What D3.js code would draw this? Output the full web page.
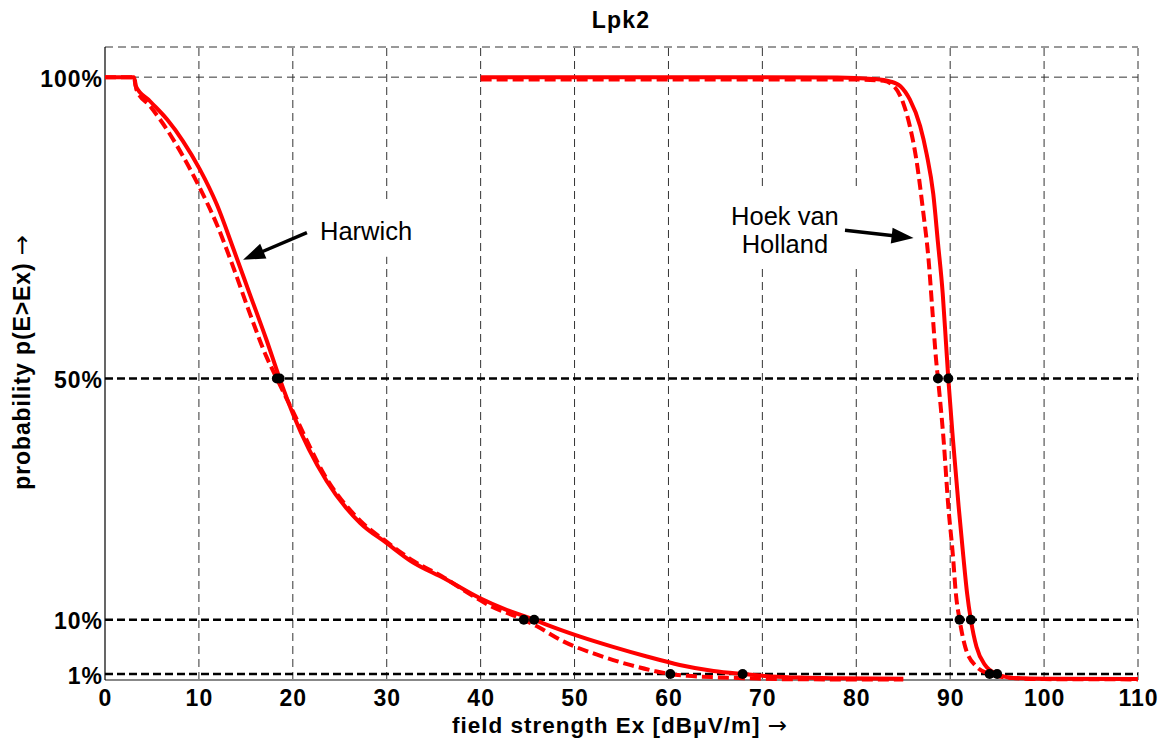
<!DOCTYPE html>
<html>
<head>
<meta charset="utf-8">
<script src="https://cdn.jsdelivr.net/npm/d3@7/dist/d3.min.js"></script>
<style>
  html, body { margin: 0; padding: 0; background: #fff; }
  svg { display: block; font-family: "Liberation Sans", Arial, Helvetica, sans-serif; }
</style>
</head>
<body>
<svg id="chart" width="1174" height="740"></svg>
<script>
// Exceedance probability p(E>Ex) versus field strength Ex, two sites, two variants each
const xTicks = [0, 10, 20, 30, 40, 50, 60, 70, 80, 90, 100, 110];
const yTicks = [1, 10, 50, 100];
const majorLevels = [1, 10, 50];
const minorLevels = [100, 105];

// [Ex dBµV/m, probability %]
const harwichSolid = [
  [0, 100], [3.1, 100], [3.25, 98.6], [4.8, 96.0], [6.6, 93.0], [8.3, 89.4],
  [10.1, 84.7], [11.9, 78.9], [13.7, 71.4], [15.4, 64.1], [17.2, 56.4], [18.6, 50],
  [20.05, 44.0], [23.6, 33.0], [27.2, 26.0], [30.0, 22.7], [32.6, 19.7], [36.2, 16.8],
  [39.9, 13.6], [42.5, 11.8], [45.7, 10.0], [47.0, 9.2], [50.6, 7.2], [54.1, 5.5],
  [57.7, 3.9], [61.2, 2.5], [64.8, 1.5], [67.9, 1.0], [71, 0.6], [74, 0.4],
  [78, 0.28], [85, 0.2]
];
const harwichDashed = [
  [0, 100], [3.1, 100], [3.35, 97.9], [4.8, 95.2], [6.6, 91.3], [8.3, 86.9],
  [10.1, 81.6], [11.9, 75.6], [13.7, 68.3], [15.4, 60.9], [17.2, 53.6], [18.3, 50],
  [20, 44.6], [23.6, 33.4], [27.2, 26.4], [30, 22.9], [32.8, 19.8], [36.2, 16.9],
  [38.2, 14.9], [41, 12.3], [44.6, 10.0], [46.0, 8.9], [48.8, 6.4], [52.4, 4.2],
  [55.9, 2.5], [58.5, 1.5], [60.2, 1.0], [62, 0.7], [65, 0.45], [68.3, 0.3],
  [73, 0.12], [85, 0.08]
];
const hoekSolid = [
  [40, 100], [78, 99.95], [81.8, 99.7], [83.6, 99.3], [84.7, 98.5], [85.7, 96.3],
  [86.8, 91.9], [87.5, 87.2], [88.2, 80.6], [88.7, 72.5], [89.2, 64.2], [89.55, 56],
  [89.8, 50], [90.3, 39.8], [90.9, 28.8], [91.4, 20.5], [91.8, 14.4], [92.2, 10.0],
  [92.8, 5.5], [93.7, 2.5], [95.0, 1.0], [96.7, 0.35], [100, 0.2], [110, 0.15]
];
const hoekDashed = [
  [40, 99.6], [80, 99.6], [82.9, 99.4], [84.0, 98.5], [85.0, 95.7], [85.7, 91.9],
  [86.4, 86.3], [87.1, 78.0], [87.7, 69.7], [88.1, 61.4], [88.5, 53.1], [88.7, 50],
  [89.3, 39.8], [89.8, 28.8], [90.3, 20.5], [90.6, 14.4], [91.0, 10.0], [91.6, 5.5],
  [92.8, 2.2], [94.2, 1.0], [96.0, 0.4], [100, 0.15], [110, 0.1]
];

// level crossings marked with dots: [Ex, probability %]
const crossings = [
  [18.6, 50], [45.7, 10], [67.9, 1],
  [18.3, 50], [44.6, 10], [60.2, 1],
  [89.8, 50], [92.2, 10], [95.0, 1],
  [88.7, 50], [91.0, 10], [94.2, 1]
];

// site annotations in data units
const labels = [
  { lines: ["Harwich"], x: 27.8, y: 73.05, box: [20.8, 79.7, 34.1, 70.2], from: [21.5, 74.2], to: [14.7, 69.7] },
  { lines: ["Hoek van", "Holland"], x: 72.4, y: 75.5, box: [65.7, 81.9, 84.9, 68.9], from: [78.8, 74.6], to: [86.1, 73.3] }
];

const margin = { left: 105, right: 1138, top: 47, bottom: 680 };
const svg = d3.select("#chart");
const x = d3.scaleLinear().domain([0, 110]).range([margin.left, margin.right]);
const y = d3.scaleLinear().domain([0, 105]).range([margin.bottom, margin.top]);

// grid
const grid = svg.append("g");
grid.selectAll("line.vx").data(xTicks.filter(d => d > 0)).join("line")
  .attr("x1", d => x(d)).attr("x2", d => x(d))
  .attr("y1", y(0)).attr("y2", y(105))
  .attr("stroke", "#333").attr("stroke-width", 1).attr("stroke-dasharray", "8,5");
grid.selectAll("line.hm").data(minorLevels).join("line")
  .attr("x1", x(0)).attr("x2", x(110))
  .attr("y1", d => y(d)).attr("y2", d => y(d))
  .attr("stroke", "#333").attr("stroke-width", 1).attr("stroke-dasharray", "8,5");
grid.selectAll("line.hM").data(majorLevels).join("line")
  .attr("x1", x(0)).attr("x2", x(110))
  .attr("y1", d => y(d)).attr("y2", d => y(d))
  .attr("stroke", "#000").attr("stroke-width", 2.5).attr("stroke-dasharray", "8,4");

// white boxes behind annotations
svg.append("g").selectAll("rect").data(labels).join("rect")
  .attr("x", d => x(d.box[0])).attr("y", d => y(d.box[1]))
  .attr("width", d => x(d.box[2]) - x(d.box[0]))
  .attr("height", d => y(d.box[3]) - y(d.box[1]))
  .attr("fill", "#fff");

// frame axes
svg.append("line").attr("x1", x(0)).attr("x2", x(110)).attr("y1", y(0)).attr("y2", y(0))
  .attr("stroke", "#888").attr("stroke-width", 2);
svg.append("line").attr("x1", x(0)).attr("x2", x(0)).attr("y1", y(0)).attr("y2", y(105))
  .attr("stroke", "#000").attr("stroke-width", 1.2);

// curves
const line = d3.line().x(d => x(d[0])).y(d => y(d[1])).curve(d3.curveMonotoneX);
const series = [
  { data: harwichDashed, dash: "11,5" },
  { data: hoekDashed, dash: "11,5" },
  { data: harwichSolid, dash: null },
  { data: hoekSolid, dash: null }
];
svg.append("g").selectAll("path").data(series).join("path")
  .attr("d", d => line(d.data))
  .attr("fill", "none").attr("stroke", "#ff0000").attr("stroke-width", 4)
  .attr("stroke-dasharray", d => d.dash);

// crossing dots
svg.append("g").selectAll("circle").data(crossings).join("circle")
  .attr("cx", d => x(d[0])).attr("cy", d => y(d[1])).attr("r", 5).attr("fill", "#000");

// annotations
const ann = svg.append("g");
labels.forEach(l => {
  const t = ann.append("text").attr("x", x(l.x)).attr("y", y(l.y))
    .attr("text-anchor", "middle").attr("font-size", 25.5).attr("fill", "#000");
  l.lines.forEach((s, i) => t.append("tspan").attr("x", x(l.x)).attr("dy", i === 0 ? 0 : 28).text(s));
  const x1 = x(l.from[0]), y1 = y(l.from[1]), x2 = x(l.to[0]), y2 = y(l.to[1]);
  const a = Math.atan2(y2 - y1, x2 - x1), hl = 22, hw = 8;
  const bx = x2 - hl * Math.cos(a), by = y2 - hl * Math.sin(a);
  ann.append("line").attr("x1", x1).attr("y1", y1).attr("x2", bx + 2 * Math.cos(a)).attr("y2", by + 2 * Math.sin(a))
    .attr("stroke", "#000").attr("stroke-width", 3.5);
  ann.append("path")
    .attr("d", `M${x2},${y2}L${bx - hw * Math.sin(a)},${by + hw * Math.cos(a)}L${bx + hw * Math.sin(a)},${by - hw * Math.cos(a)}Z`)
    .attr("fill", "#000");
});

// tick labels
const xAxis = svg.append("g").attr("transform", `translate(0,${y(0)})`)
  .call(d3.axisBottom(x).tickValues(xTicks).tickSize(0).tickPadding(10).tickFormat(d3.format("d")));
const yAxis = svg.append("g").attr("transform", `translate(${x(0)},0)`)
  .call(d3.axisLeft(y).tickValues(yTicks).tickSize(0).tickPadding(3).tickFormat(d => d + "%"));
[xAxis, yAxis].forEach(g => {
  g.select(".domain").remove();
  g.selectAll("text").attr("font-family", "'Liberation Sans', Arial, sans-serif")
    .attr("font-size", 23).attr("font-weight", "bold").attr("fill", "#000")
    .attr("letter-spacing", 1);
});
yAxis.selectAll("text").attr("dy", "0.4em").attr("dx", 1);

// title and axis titles
svg.append("text").attr("x", 621).attr("y", 28).attr("text-anchor", "middle")
  .attr("font-size", 23).attr("font-weight", "bold").attr("letter-spacing", 1.2).text("Lpk2");

const arrowFont = "'DejaVu Sans', sans-serif";
const xl = svg.append("text").attr("x", 620).attr("y", 733).attr("text-anchor", "middle")
  .attr("font-size", 22.5).attr("font-weight", "bold").attr("letter-spacing", 1);
xl.append("tspan").text("field strength Ex [dBμV/m] ");
xl.append("tspan").attr("font-weight", "normal").attr("font-family", arrowFont).attr("font-size", 23).text("→");

const yl = svg.append("text").attr("transform", "translate(30,362) rotate(-90)")
  .attr("text-anchor", "middle").attr("font-size", 23).attr("font-weight", "bold").attr("letter-spacing", 0.9);
yl.append("tspan").text("probability p(E>Ex) ");
yl.append("tspan").attr("font-weight", "normal").attr("font-family", arrowFont).attr("font-size", 24).text("→");
</script>
</body>
</html>
